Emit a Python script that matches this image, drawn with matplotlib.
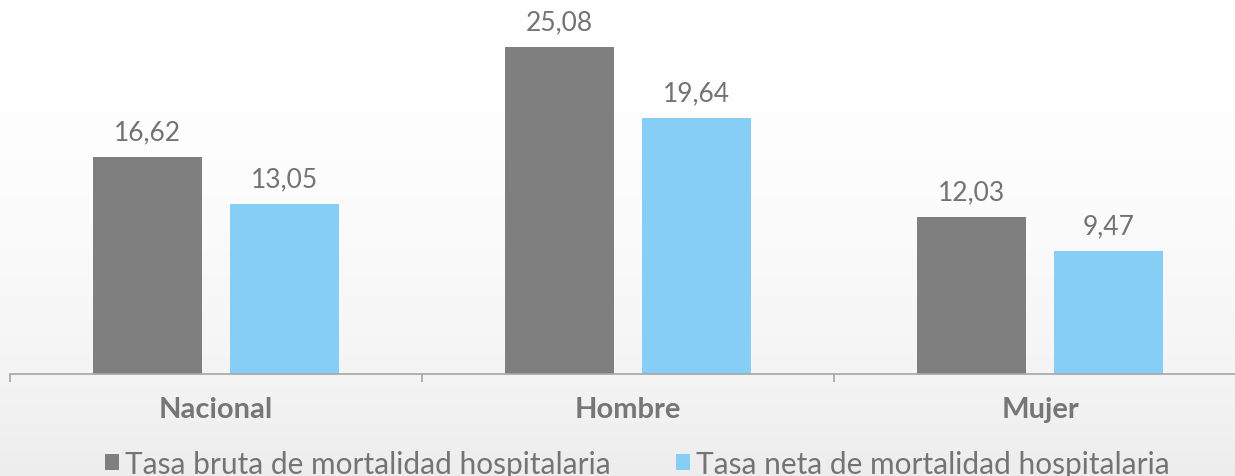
import numpy as np
import matplotlib.pyplot as plt

# datos
categorias = ['Nacional', 'Hombre', 'Mujer']
tasa_bruta = [16.62, 25.08, 12.03]
tasa_neta = [13.05, 19.64, 9.47]
series = ['Tasa bruta de mortalidad hospitalaria', 'Tasa neta de mortalidad hospitalaria']

plt.rcParams['font.family'] = ['Lato', 'DejaVu Sans']

fig = plt.figure(figsize=(12.35, 4.77), dpi=100)

# fondo con degradado suave (blanco arriba, gris muy claro abajo)
bg = fig.add_axes([0, 0, 1, 1], zorder=-1)
t = np.linspace(0, 1, 256) ** 2
grad = np.ones((256, 1, 3)) * (1 - 0.07 * t)[:, None, None]
bg.imshow(grad, aspect='auto', extent=[0, 1, 0, 1], origin='upper')
bg.axis('off')

ax = fig.add_axes([10 / 1235, 102 / 477, 1236 / 1235, 375 / 477])
ax.patch.set_alpha(0)

x = np.arange(len(categorias))
w = 0.265
off = 0.166
b1 = ax.bar(x - off, tasa_bruta, w, color='#7F7F7F', label=series[0])
b2 = ax.bar(x + off, tasa_neta, w, color='#86CEF5', label=series[1])

for bars, vals in [(b1, tasa_bruta), (b2, tasa_neta)]:
    for b, v in zip(bars, vals):
        ax.annotate('{:.2f}'.format(v).replace('.', ','), (b.get_x() + b.get_width() / 2, v),
                    xytext=(0, 9), textcoords='offset points', ha='center', va='bottom',
                    fontsize=19, color='#737373')

ax.set_xlim(-0.5, 2.5)
ax.set_ylim(0, 28.76)
ax.set_yticks([])
for s in ['top', 'right', 'left']:
    ax.spines[s].set_visible(False)
ax.spines['bottom'].set_color('#A6A6A6')
ax.spines['bottom'].set_linewidth(1.2)

ax.set_xticks([-0.5, 0.5, 1.5, 2.5])
ax.set_xticklabels([])
ax.tick_params(axis='x', length=6, color='#A6A6A6', width=1.2)
for i, c in enumerate(categorias):
    ax.text(i, -2.7, c, ha='center', va='center', fontsize=21, fontweight='bold', color='#767676')

fig.legend(handles=[b1, b2], loc='center', bbox_to_anchor=(0.516, 0.025), ncol=2, frameon=False,
           fontsize=21.5, labelcolor='#747474', handlelength=0.45, handleheight=0.45,
           handletextpad=0.2, columnspacing=2.2)

fig.savefig('out.png', dpi=100)
